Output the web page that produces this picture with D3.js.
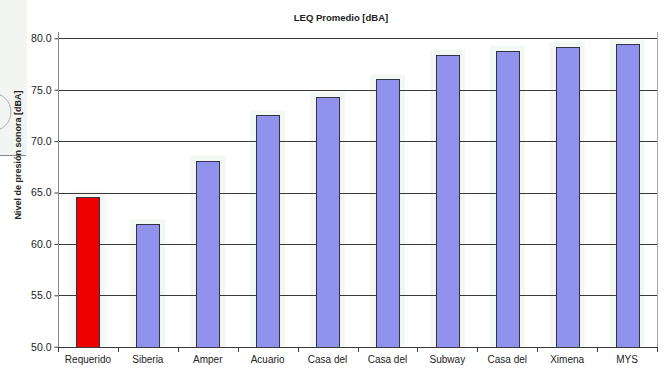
<!DOCTYPE html>
<html>
<head>
<meta charset="utf-8">
<script src="https://cdn.jsdelivr.net/npm/d3@7"></script>
<style>
  html, body { margin: 0; padding: 0; background: #fff; }
  svg { display: block; }
  text { font-family: "Liberation Sans", Arial, sans-serif; fill: #222; }
</style>
</head>
<body>
<svg id="chart" width="664" height="368"></svg>
<script>
const categories = ["Requerido", "Siberia", "Amper", "Acuario", "Casa del", "Casa del", "Subway", "Casa del", "Ximena", "MYS"];
const values = [64.6, 61.9, 68.1, 72.5, 74.3, 76.0, 78.4, 78.8, 79.2, 79.4];
const barColors = ["#ee0000", "#9191ee", "#9191ee", "#9191ee", "#9191ee", "#9191ee", "#9191ee", "#9191ee", "#9191ee", "#9191ee"];
const yTicks = [50, 55, 60, 65, 70, 75, 80];
const title = "LEQ Promedio [dBA]";
const yTitle = "Nivel de presión sonora [dBA]";

(function () {
const svg = d3.select("#chart");
const pL = 58, pR = 657, pT = 38.3, pB = 346.7;

// decorative artifact at left edge
svg.append("rect").attr("x", 0).attr("y", 0).attr("width", 27).attr("height", 155)
  .attr("fill", "#f3f5f3");
svg.append("line").attr("x1", 0).attr("x2", 26).attr("y1", 155.5).attr("y2", 155.5)
  .attr("stroke", "#8a8a8a");
svg.append("circle").attr("cx", -8).attr("cy", 112).attr("r", 19)
  .attr("fill", "none").attr("stroke", "#aaa");

const idx = categories.map((d, i) => i);
const x = d3.scaleBand().domain(idx).range([pL, pR]).paddingInner(0.615).paddingOuter(0.3075);
const y = d3.scaleLinear().domain([50, 80]).range([pB, pT]);

// faint halos behind bars
svg.append("g").selectAll("rect").data(idx).join("rect")
  .attr("x", i => x(i) - 6).attr("width", x.bandwidth() + 12)
  .attr("y", i => y(values[i]) - 5).attr("height", i => pB - y(values[i]) + 5)
  .attr("fill", "#f4f8f4");

// gridlines
svg.append("g").selectAll("line").data(yTicks.filter(t => t > 50)).join("line")
  .attr("x1", pL).attr("x2", pR)
  .attr("y1", d => Math.round(y(d)) + 0.5).attr("y2", d => Math.round(y(d)) + 0.5)
  .attr("stroke", "#3a3a3a").attr("stroke-width", 1);

// right border
svg.append("line").attr("x1", pR + 0.5).attr("x2", pR + 0.5).attr("y1", 32).attr("y2", 351)
  .attr("stroke", "#a8a8a8");

// bars
svg.append("g").selectAll("rect").data(idx).join("rect")
  .attr("x", i => Math.round(x(i)) + 0.5)
  .attr("width", Math.round(x.bandwidth()))
  .attr("y", i => Math.round(y(values[i])) + 0.5)
  .attr("height", i => Math.round(pB) - Math.round(y(values[i])))
  .attr("fill", (i) => barColors[i])
  .attr("stroke", "#333344").attr("stroke-width", 1);

// y axis
const yAxis = d3.axisLeft(y).tickValues(yTicks).tickFormat(d3.format(".1f")).tickSize(4).tickPadding(3);
const gy = svg.append("g").attr("transform", `translate(${pL + 0.5},0)`).call(yAxis);
gy.select(".domain").remove();
gy.selectAll(".tick line").attr("stroke", "#3a3a3a");
gy.selectAll(".tick text").attr("font-size", 10.5).attr("fill", "#222")
  .attr("font-family", "Liberation Sans, Arial, sans-serif");
svg.append("line").attr("x1", pL + 0.5).attr("x2", pL + 0.5).attr("y1", 32).attr("y2", pB + 1)
  .attr("stroke", "#888");

// x axis
const xAxis = d3.axisBottom(x).tickFormat(i => categories[i]).tickSize(0).tickPadding(8);
const gx = svg.append("g").attr("transform", `translate(0,${Math.round(pB) + 0.5})`).call(xAxis);
gx.select(".domain").remove();
gx.selectAll(".tick text").attr("font-size", 10).attr("fill", "#222")
  .attr("font-family", "Liberation Sans, Arial, sans-serif");
svg.append("line").attr("x1", pL).attr("x2", pR).attr("y1", Math.round(pB) + 0.5).attr("y2", Math.round(pB) + 0.5)
  .attr("stroke", "#3a3a3a");
// boundary ticks
const bounds = d3.range(categories.length + 1).map(k => pL + k * x.step());
svg.append("g").selectAll("line").data(bounds).join("line")
  .attr("x1", d => Math.round(d) + 0.5).attr("x2", d => Math.round(d) + 0.5)
  .attr("y1", Math.round(pB)).attr("y2", Math.round(pB) + 5)
  .attr("stroke", "#3a3a3a");

// title
svg.append("text").attr("x", 341).attr("y", 21).attr("text-anchor", "middle")
  .attr("font-size", 9.5).attr("font-weight", "bold").text(title);

// y title
svg.append("text").attr("transform", "translate(21,155) rotate(-90)")
  .attr("text-anchor", "middle").attr("font-size", 9).attr("font-weight", "bold").text(yTitle);
})();
</script>
</body>
</html>
